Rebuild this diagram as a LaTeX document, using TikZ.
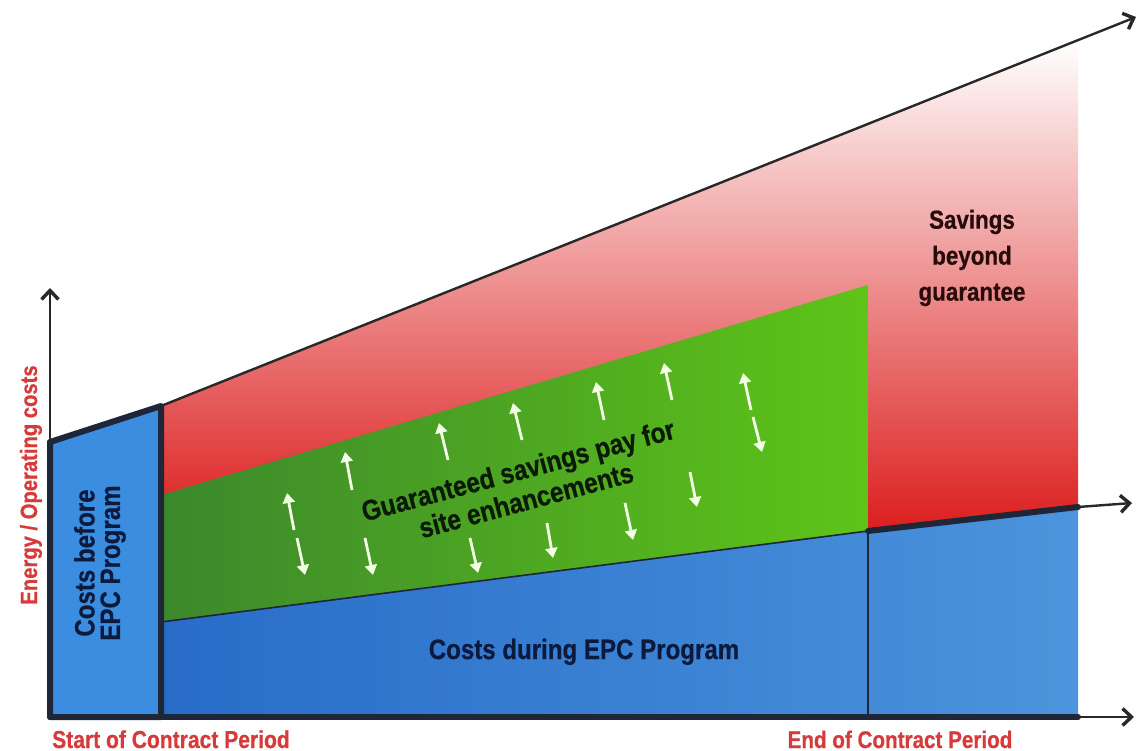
\documentclass[tikz,border=0pt]{standalone}
\usepackage{fontspec}
\setmainfont{Liberation Sans}[FakeStretch=0.86, BoldFeatures={FakeBold=0.6}]
\usetikzlibrary{arrows.meta}

\definecolor{labelred}{RGB}{214,58,58}
\definecolor{navytext}{RGB}{12,26,62}
\definecolor{edgedark}{RGB}{30,38,56}
\definecolor{linegray}{RGB}{40,40,40}
\definecolor{redfill}{RGB}{220,30,30}
\definecolor{greenL}{RGB}{60,136,44}
\definecolor{greenR}{RGB}{94,196,24}
\definecolor{blueL}{RGB}{40,108,200}
\definecolor{blueR}{RGB}{76,148,220}
\definecolor{boxblue}{RGB}{59,141,224}
\definecolor{arrowwhite}{RGB}{242,255,228}
\definecolor{savetext}{RGB}{40,12,12}
\definecolor{greentext}{RGB}{10,26,6}

\begin{document}
\begin{tikzpicture}[x=1pt,y=-1pt,
  heavyedge/.style={draw=edgedark, line width=6pt, line join=round, line cap=round},
  thinedge/.style={draw=edgedark, line width=1.6pt},
  axisarrow/.style={draw=linegray, line width=2.4pt,
    -{Straight Barb[length=9pt,width=17pt,line width=3.4pt]}},
  savearrow/.style={draw=arrowwhite, line width=2.8pt,
    -{Triangle[length=10pt,width=12pt]}},
  lab/.style={text=labelred, inner sep=0pt},
  inlab/.style={inner sep=0pt, align=center}]

\useasboundingbox (0,0) rectangle (1144,751);

% key points of the chart (pixel-like units, y downwards)
\coordinate (O)    at (50,717);
\coordinate (Ytip) at (50,288);
\coordinate (BL)   at (50,442);
\coordinate (BR)   at (161,406);
\coordinate (BRb)  at (161,717);
\coordinate (Gtl)  at (161,495);
\coordinate (Gbl)  at (161,622);
\coordinate (Gtr)  at (868,285);
\coordinate (Gbr)  at (868,531);
\coordinate (Dbot) at (868,717);
\coordinate (Rtr)  at (1078,40);
\coordinate (Rbr)  at (1078,507);
\coordinate (Rbl)  at (161,531);
\coordinate (Bbr)  at (1078,717);
\coordinate (Xtip) at (1134,717);
\coordinate (Mtip) at (1132,503);
\coordinate (Ttip) at (1136,17);

% savings region (fades out towards the top)
\shade[top color=white, middle color=redfill!62!white, bottom color=redfill]
  (BR) -- (Rtr) -- (Rbr) -- (Gbr) -- (Rbl) -- cycle;

% costs during the program
\shade[left color=blueL, right color=blueR] (Gbl) -- (Gbr) -- (Rbr) -- (Bbr) -- (BRb) -- cycle;

% guaranteed savings band
\shade[left color=greenL, right color=greenR] (Gtl) -- (Gtr) -- (Gbr) -- (Gbl) -- cycle;

% boundary lines
\draw[thinedge] (Gbl) -- (Gbr);
\draw[thinedge] (Gbr) -- (Dbot);
\draw[heavyedge] (Gbr) -- (Rbr);

% costs before the program
\draw[heavyedge, fill=boxblue] (O) -- (BL) -- (BR) -- (BRb) -- cycle;

% axes and trend lines
\draw[heavyedge] (O) -- (Bbr);
\draw[axisarrow] (Bbr) -- (Xtip);
\draw[axisarrow] (Rbr) -- (Mtip);
\draw[axisarrow] (BL) -- (Ytip);
\draw[axisarrow] (BR) -- (Ttip);

% up and down arrows inside the savings band
\foreach \xa/\ya/\xb/\yb in {294/530/287/493, 352/490/345/452, 448/460/439/423,
                   522/440/513/403, 604/420/596/382, 672/400/664/363,
                   751/410/743/373,
                   297/538/305/575, 365/538/373/575, 470/538/478/573,
                   547/523/553/558, 625/503/633/540, 690/472/697/507,
                   753/417/762/452}
  \draw[savearrow] (\xa,\ya) -- (\xb,\yb);

% texts
\node[inlab, text=navytext, anchor=base,
      font=\bfseries\fontsize{28}{30}\selectfont] (during) at (584,659)
  {Costs during EPC Program};
\node[inlab, text=navytext, rotate=90,
      font=\bfseries\fontsize{28}{25.5}\selectfont] (before) at (100,563)
  {Costs before\\EPC Program};
\node[inlab, text=greentext, rotate=15,
      font=\bfseries\fontsize{28.5}{31}\selectfont] (guar) at (522,485)
  {Guaranteed savings pay for\\site enhancements};
\node[inlab, text=savetext,
      font=\bfseries\fontsize{26}{36}\selectfont] (beyond) at (972,258)
  {Savings\\beyond\\guarantee};
\node[lab, rotate=90, font=\bfseries\fontsize{23.5}{26}\selectfont] (yaxis) at (31,485)
  {Energy / Operating costs};
\node[lab, anchor=base, font=\bfseries\fontsize{24.5}{26}\selectfont] (start) at (171,748)
  {Start of Contract Period};
\node[lab, anchor=base, font=\bfseries\fontsize{24}{26}\selectfont] (end) at (900,748)
  {End of Contract Period};
\end{tikzpicture}
\end{document}
